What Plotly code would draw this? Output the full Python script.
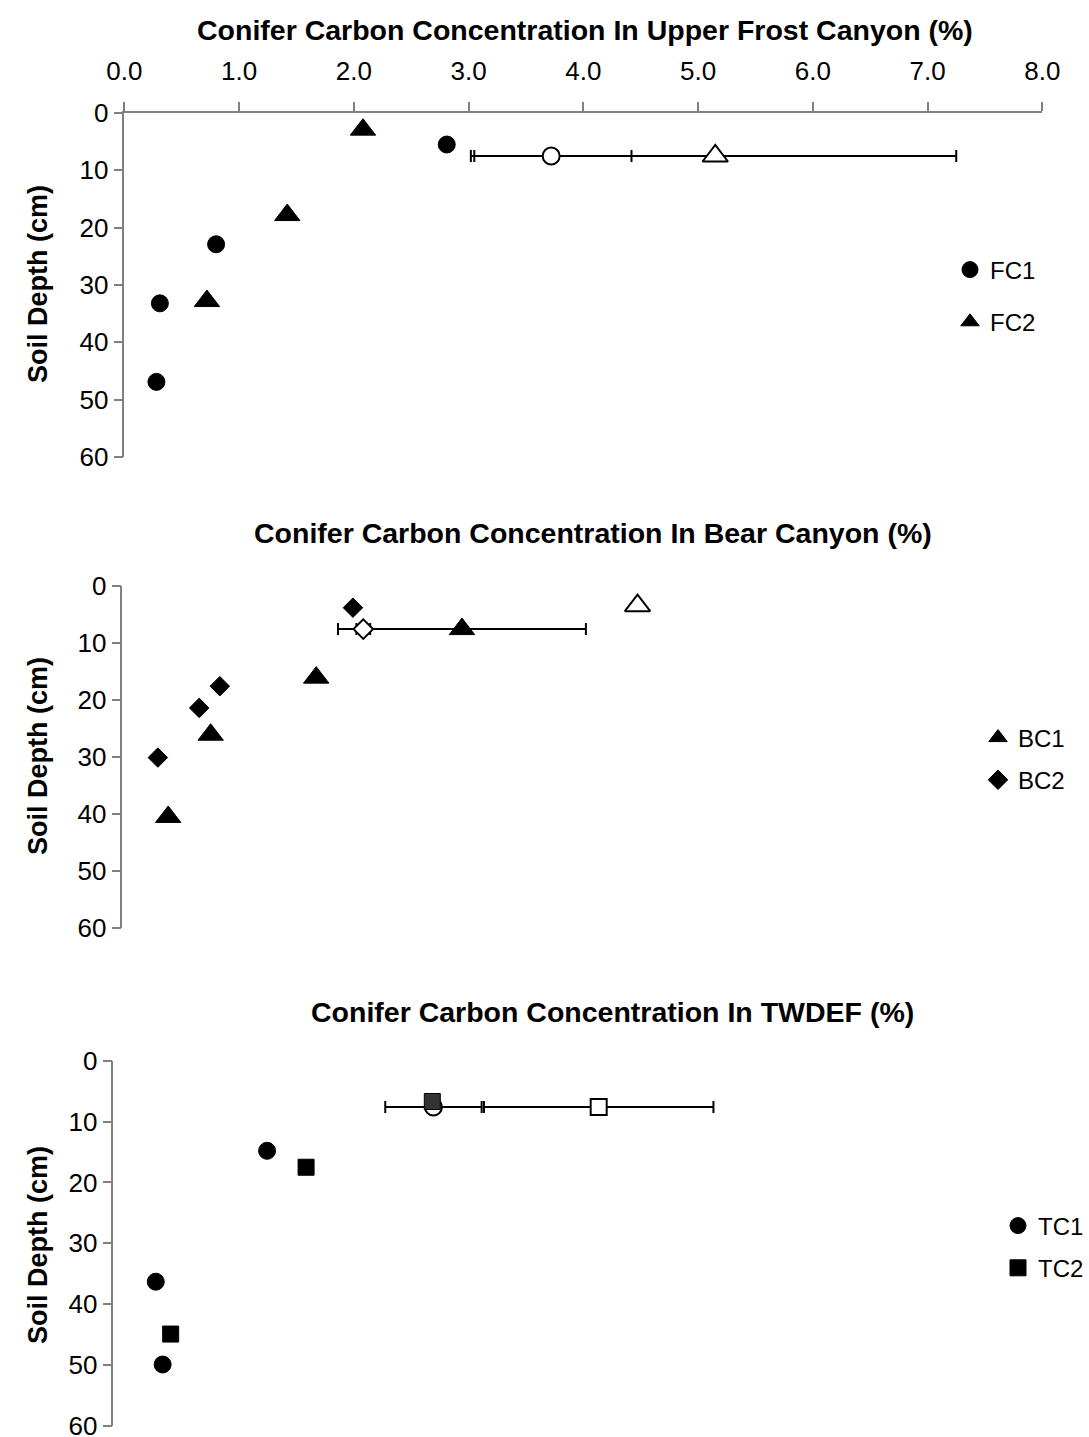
import plotly.graph_objects as go

# ---------------- data ----------------
# Upper Frost Canyon
FC1_carbon = [2.81, 0.80, 0.31, 0.28]
FC1_depth = [5.5, 22.9, 33.2, 46.9]
FC2_carbon = [2.08, 1.42, 0.72]
FC2_depth = [2.9, 17.8, 32.8]
FC1_mean_carbon = [3.72]
FC1_mean_depth = [7.5]
FC1_mean_err = [0.70]
FC2_mean_carbon = [5.15]
FC2_mean_depth = [7.5]
FC2_mean_err = [2.10]

# Bear Canyon
BC1_carbon = [1.69, 0.77, 0.40]
BC1_depth = [16.1, 26.1, 40.5]
BC2_carbon = [2.01, 0.85, 0.67, 0.31]
BC2_depth = [3.85, 17.6, 21.4, 30.1]
BC1_mean_carbon = [2.96]
BC1_mean_depth = [7.6]
BC1_mean_err = [1.08]
BC2_mean_carbon = [2.10]
BC2_mean_depth = [7.6]
BC2_mean_err = [0.06]
BC_open_tri_carbon = [4.49]
BC_open_tri_depth = [3.5]

# TWDEF
TC1_carbon = [1.34, 0.37, 0.43]
TC1_depth = [14.8, 36.3, 49.9]
TC2_carbon = [1.68, 0.50]
TC2_depth = [17.5, 44.9]
TC1_mean_carbon = [2.79]
TC1_mean_depth = [7.6]
TC1_mean_err = [0.42]
TC2_mean_carbon = [4.23]
TC2_mean_depth = [7.6]
TC2_mean_err = [1.00]
TC_dark_sq_carbon = [2.78]
TC_dark_sq_depth = [6.7]

x_ticks = [0, 1, 2, 3, 4, 5, 6, 7, 8]
depth_ticks = [0, 10, 20, 30, 40, 50, 60]

titles = ["Conifer Carbon Concentration In Upper Frost Canyon (%)",
          "Conifer Carbon Concentration In Bear Canyon (%)",
          "Conifer Carbon Concentration In TWDEF (%)"]
y_title = "Soil Depth (cm)"

# ---------------- layout helpers ----------------
W, H = 1089, 1437
FONT = "Liberation Sans, Arial, sans-serif"


def px_x(p):
    return p / W


def px_y(p):
    return 1 - p / H


fig = go.Figure()

SOLID = dict(color="black", line=dict(color="black", width=1))
OPEN = dict(color="white", line=dict(color="black", width=2))
ERR = dict(color="black", thickness=2, width=6)
TRI = 22
CIR = 17
DIA = 15
SQ = 16


def pts(x, y, sym, size, style, xa, ya, name=None, legend=None, group=None, err=None):
    kw = dict(x=x, y=y, mode="markers", xaxis=xa, yaxis=ya,
              marker=dict(symbol=sym, size=size, **style),
              hoverinfo="x+y")
    if name:
        kw.update(name=name, showlegend=True, legend=legend, legendgroup=group)
    else:
        kw.update(showlegend=False)
    if err is not None:
        kw["error_x"] = dict(type="data", array=err, **ERR)
    fig.add_trace(go.Scatter(**kw))


# top panel
pts(FC1_carbon, FC1_depth, "circle", CIR, SOLID, "x", "y", "FC1", "legend", "a")
pts(FC2_carbon, FC2_depth, "triangle-up", TRI, SOLID, "x", "y", "FC2", "legend", "b")
pts(FC2_mean_carbon, FC2_mean_depth, "triangle-up", TRI, OPEN, "x", "y", err=FC2_mean_err)
pts(FC1_mean_carbon, FC1_mean_depth, "circle", CIR, OPEN, "x", "y", err=FC1_mean_err)

# middle panel
pts(BC1_carbon, BC1_depth, "triangle-up", TRI, SOLID, "x2", "y2", "BC1", "legend2", "c")
pts(BC2_carbon, BC2_depth, "diamond", DIA, SOLID, "x2", "y2", "BC2", "legend2", "d")
pts(BC1_mean_carbon, BC1_mean_depth, "triangle-up", TRI, SOLID, "x2", "y2", err=BC1_mean_err)
pts(BC2_mean_carbon, BC2_mean_depth, "diamond", DIA, OPEN, "x2", "y2", err=BC2_mean_err)
pts(BC_open_tri_carbon, BC_open_tri_depth, "triangle-up", TRI, OPEN, "x2", "y2")

# bottom panel
pts(TC1_carbon, TC1_depth, "circle", CIR, SOLID, "x3", "y3", "TC1", "legend3", "e")
pts(TC2_carbon, TC2_depth, "square", SQ, SOLID, "x3", "y3", "TC2", "legend3", "f")
pts(TC2_mean_carbon, TC2_mean_depth, "square", SQ, OPEN, "x3", "y3", err=TC2_mean_err)
pts(TC1_mean_carbon, TC1_mean_depth, "circle", CIR, OPEN, "x3", "y3", err=TC1_mean_err)
pts(TC_dark_sq_carbon, TC_dark_sq_depth, "square", SQ,
    dict(color="#333333", line=dict(color="black", width=1)), "x3", "y3")

AXCOL = "#808080"
TICKFONT = dict(family=FONT, size=26, color="black")

panels = [
    # (x0px, x1px, y0px(top), y1px(bottom))
    (124.3, 1042.3, 113.0, 457.0),
    (122.3, 1040.3, 585.7, 928.3),
    (113.3, 1031.3, 1060.7, 1426.0),
]

layout = dict(
    width=W, height=H,
    margin=dict(l=0, r=0, t=0, b=0, pad=0, autoexpand=False),
    paper_bgcolor="white", plot_bgcolor="white",
    font=dict(family=FONT, color="black"),
)

for i, (x0, x1, y0, y1) in enumerate(panels):
    sfx = "" if i == 0 else str(i + 1)
    xa = dict(domain=[px_x(x0), px_x(x1)], range=[0, 8], anchor="y" + sfx,
              showgrid=False, zeroline=False, fixedrange=True, automargin=False)
    if i == 0:
        xa.update(side="top", showline=True, linecolor=AXCOL, linewidth=1.5,
                  ticks="outside", ticklen=9, tickcolor=AXCOL, tickwidth=1.5,
                  tickvals=x_ticks, ticktext=[f"{v:.1f}" for v in x_ticks],
                  tickfont=TICKFONT, ticklabelstandoff=12,
                  ticklabeloverflow="allow")
    else:
        xa.update(visible=False)
    ya = dict(domain=[px_y(y1), px_y(y0)], range=[60, 0], anchor="x" + sfx,
              showgrid=False, zeroline=False, showline=True, linecolor=AXCOL,
              linewidth=1.5, ticks="outside", ticklen=9, tickcolor=AXCOL, tickwidth=1.5,
              tickvals=depth_ticks, ticktext=[str(v) for v in depth_ticks],
              tickfont=TICKFONT, fixedrange=True, automargin=False,
              ticklabeloverflow="allow")
    layout["xaxis" + sfx] = xa
    layout["yaxis" + sfx] = ya

leg_common = dict(font=dict(family=FONT, size=24, color="black"),
                  bgcolor="rgba(0,0,0,0)", xanchor="left", yanchor="middle",
                  traceorder="grouped", itemsizing="trace")
layout["legend"] = dict(x=px_x(950), y=px_y(296), tracegroupgap=18, **leg_common)
layout["legend2"] = dict(x=px_x(978), y=px_y(759), tracegroupgap=8, **leg_common)
layout["legend3"] = dict(x=px_x(998), y=px_y(1247), tracegroupgap=8, **leg_common)

annotations = []
for t, (cx, cy) in zip(titles, [(585, 30), (593, 533), (612, 1012)]):
    annotations.append(dict(text=f"<b>{t}</b>", x=px_x(cx), y=px_y(cy), xref="paper",
                            yref="paper", xanchor="center", yanchor="middle",
                            showarrow=False, font=dict(family=FONT, size=28.5)))
for cy in [284, 756, 1245]:
    annotations.append(dict(text=f"<b>{y_title}</b>", x=px_x(38), y=px_y(cy), xref="paper",
                            yref="paper", xanchor="center", yanchor="middle",
                            textangle=-90, showarrow=False,
                            font=dict(family=FONT, size=27)))
layout["annotations"] = annotations

fig.update_layout(**layout)
fig.write_html("out.html")
